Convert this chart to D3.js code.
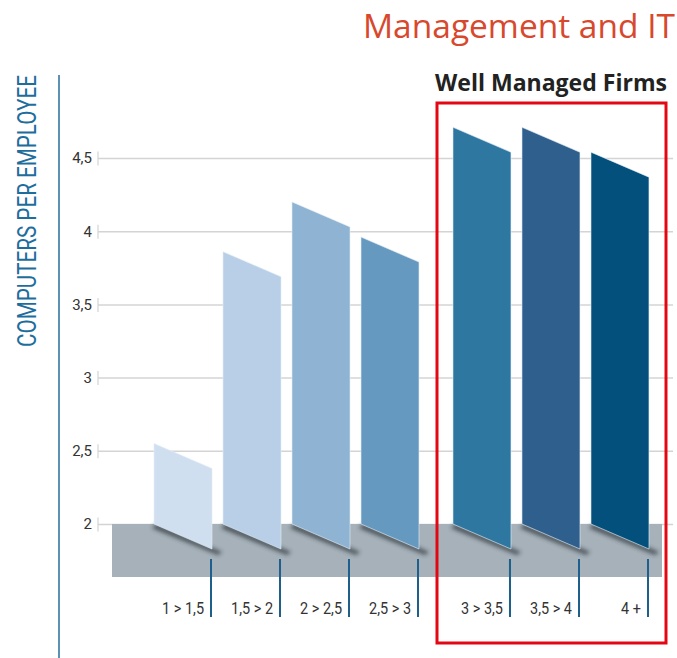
<!DOCTYPE html>
<html>
<head>
<meta charset="utf-8">
<script src="https://cdn.jsdelivr.net/npm/d3@7"></script>
<style>
  body { margin: 0; background: #fff; }
  svg { display: block; }
</style>
</head>
<body>
<svg></svg>
<script>
let width = 677;
let height = 658;

// data
let categories = ["1 > 1,5", "1,5 > 2", "2 > 2,5", "2,5 > 3", "3 > 3,5", "3,5 > 4", "4 +"];
let values = [2.55, 3.86, 4.2, 3.96, 4.71, 4.71, 4.54];
let groups = ["all", "all", "all", "all", "well", "well", "well"];
let yTicks = [2, 2.5, 3, 3.5, 4, 4.5];
let colors = ["#cfdff0", "#b8cfe7", "#8fb3d2", "#6699c0", "#2e77a1", "#2f5f8c", "#04507c"];

let data = categories.map((c, i) => ({ cat: c, value: values[i], group: groups[i], color: colors[i] }));

let barW = 58;
let slant = 25;
let groupGap = 0.333;

let yScale = d3.scaleLinear()
    .domain([2, 4.5])
    .range([524, 158]);

let xScale = d3.scaleLinear()
    .domain([0, 1])
    .range([154, 223]);

let xPos = (d, i) => xScale(i + (d.group === "well" ? groupGap : 0));

let svg = d3.select("svg")
    .attr("width", width)
    .attr("height", height);

let defs = svg.append("defs");
defs.append("filter")
    .attr("id", "blur")
    .attr("x", "-20%").attr("y", "-50%")
    .attr("width", "140%").attr("height", "200%")
    .append("feGaussianBlur")
    .attr("stdDeviation", 2.2);

// title
svg.append("text")
    .attr("x", 363)
    .attr("y", 38)
    .attr("textLength", 312)
    .attr("lengthAdjust", "spacingAndGlyphs")
    .style("font-family", "'Open Sans', sans-serif")
    .style("font-size", "32px")
    .style("fill", "#d8482d")
    .text("Management and IT");

svg.append("text")
    .attr("x", 435)
    .attr("y", 91)
    .attr("textLength", 232)
    .attr("lengthAdjust", "spacingAndGlyphs")
    .style("font-family", "'Open Sans', sans-serif")
    .style("font-weight", "bold")
    .style("font-size", "23px")
    .style("fill", "#222")
    .text("Well Managed Firms");

// y axis label and line
svg.append("text")
    .attr("transform", "translate(36, 211) rotate(-90)")
    .attr("textLength", 272)
    .attr("lengthAdjust", "spacingAndGlyphs")
    .style("text-anchor", "middle")
    .style("font-family", "Roboto, sans-serif")
    .style("font-size", "25px")
    .style("fill", "#1e6e9d")
    .text("COMPUTERS PER EMPLOYEE");

svg.append("line")
    .attr("x1", 59).attr("x2", 59)
    .attr("y1", 75).attr("y2", height)
    .attr("stroke", "#2a6d99")
    .attr("stroke-width", 1.5);

// gridlines + ticks
let yAxis = d3.axisLeft(yScale)
    .tickValues(yTicks)
    .tickSize(-(673 - 98))
    .tickPadding(6)
    .tickFormat(d => String(d).replace(".", ","));

let gy = svg.append("g")
    .attr("transform", "translate(98,0)")
    .call(yAxis);
gy.select(".domain").remove();
gy.selectAll(".tick line")
    .attr("stroke", "#d4d4d4")
    .attr("stroke-width", 1.5);
gy.selectAll(".tick").append("line")
    .attr("x1", 0).attr("x2", 0)
    .attr("y1", -7).attr("y2", 7)
    .attr("stroke", "#d4d4d4")
    .attr("stroke-width", 1.2);
gy.selectAll(".tick text")
    .style("font-family", "Roboto, sans-serif")
    .style("font-size", "15px")
    .style("fill", "#333");

// floor
svg.append("rect")
    .attr("x", 112)
    .attr("y", yScale(2))
    .attr("width", 662 - 112)
    .attr("height", 577 - yScale(2))
    .attr("fill", "#a6b1b9");

let floorY = yScale(2);

// shadows
svg.selectAll(".shadow")
    .data(data)
    .enter()
    .append("polygon")
    .attr("class", "shadow")
    .attr("points", (d, i) => {
        let x0 = xPos(d, i);
        return [
            [x0 + 2, floorY],
            [x0 + barW + 10, floorY + slant + 3],
            [x0 + barW + 6, floorY + slant + 6],
            [x0 - 2, floorY + 4]
        ].map(p => p.join(",")).join(" ");
    })
    .attr("fill", "#2b3238")
    .attr("opacity", 0.75)
    .attr("filter", "url(#blur)");

// bars
svg.selectAll(".bar")
    .data(data)
    .enter()
    .append("polygon")
    .attr("class", "bar")
    .attr("points", (d, i) => {
        let x0 = xPos(d, i);
        let y0 = yScale(d.value);
        return [
            [x0, y0],
            [x0 + barW, y0 + slant],
            [x0 + barW, floorY + slant],
            [x0, floorY]
        ].map(p => p.join(",")).join(" ");
    })
    .attr("fill", d => d.color)
    .attr("stroke", "#e4eef7")
    .attr("stroke-width", 0.6);

// x ticks
svg.selectAll(".xtick")
    .data(data)
    .enter()
    .append("line")
    .attr("class", "xtick")
    .attr("x1", (d, i) => xPos(d, i) + barW - 1)
    .attr("x2", (d, i) => xPos(d, i) + barW - 1)
    .attr("y1", 559)
    .attr("y2", 617)
    .attr("stroke", "#1f5f8b")
    .attr("stroke-width", 2);

// x labels
svg.selectAll(".xlabel")
    .data(data)
    .enter()
    .append("text")
    .attr("class", "xlabel")
    .attr("transform", (d, i) => "translate(" + (xPos(d, i) + barW - 8) + ",614) scale(0.85,1)")
    .style("text-anchor", "end")
    .style("font-family", "Roboto, sans-serif")
    .style("font-size", "17px")
    .style("fill", "#333")
    .text(d => d.cat);

// highlight box
svg.append("rect")
    .attr("x", 437)
    .attr("y", 103)
    .attr("width", 666 - 437)
    .attr("height", 643 - 103)
    .attr("fill", "none")
    .attr("stroke", "#e30613")
    .attr("stroke-width", 3);
</script>
</body>
</html>
